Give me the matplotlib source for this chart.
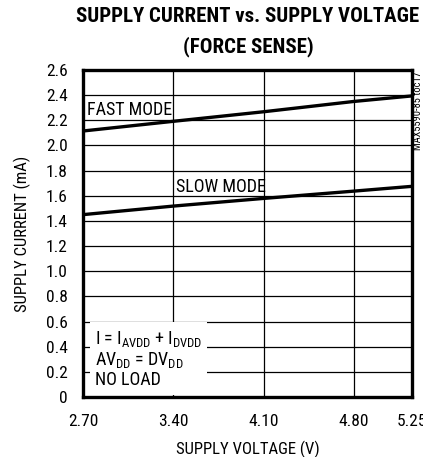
import matplotlib
matplotlib.use('Agg')
import matplotlib.pyplot as plt

# Data
VOLTAGE = [2.70, 3.40, 4.10, 4.80, 5.25]
FAST_MODE = [2.115, 2.192, 2.268, 2.350, 2.394]
SLOW_MODE = [1.450, 1.518, 1.579, 1.637, 1.675]

X_TICKS = [2.70, 3.40, 4.10, 4.80, 5.25]
Y_TICKS = [0, 0.2, 0.4, 0.6, 0.8, 1.0, 1.2, 1.4, 1.6, 1.8, 2.0, 2.2, 2.4, 2.6]

FONTS = ['Liberation Sans Narrow', 'Roboto Condensed', 'Liberation Sans', 'DejaVu Sans']
plt.rcParams['font.family'] = FONTS
plt.rcParams['mathtext.default'] = 'regular'

fig = plt.figure(figsize=[4.23, 4.57], dpi=100)
ax = fig.add_axes([83 / 423, 60 / 457, 329 / 423, 327 / 457])

ax.plot(VOLTAGE, FAST_MODE, color='black', lw=2.4, zorder=4)
ax.plot(VOLTAGE, SLOW_MODE, color='black', lw=2.4, zorder=4)

ax.set_xlim(X_TICKS[0], X_TICKS[-1])
ax.set_ylim(Y_TICKS[0], Y_TICKS[-1])
ax.set_xticks(X_TICKS, ['%.2f' % v for v in X_TICKS])
ax.set_yticks(Y_TICKS, ['0'] + ['%.1f' % v for v in Y_TICKS[1:]])
ax.tick_params(length=0, labelsize=12.5)
ax.tick_params(axis='x', pad=12)
ax.tick_params(axis='y', pad=11)
ax.grid(True, color='black', lw=0.9)
ax.set_axisbelow(True)
for s in ax.spines.values():
    s.set_linewidth(2.4)
    s.set_zorder(6)

ax.set_xlabel('SUPPLY VOLTAGE (V)', fontsize=12, labelpad=9)
ax.set_ylabel('SUPPLY CURRENT (mA)', fontsize=12, labelpad=11)

ax.text(2.73, 2.242, 'FAST MODE', fontsize=13, va='baseline', ha='left', zorder=5)
ax.text(3.42, 1.63, 'SLOW MODE', fontsize=13, va='baseline', ha='left', zorder=5)

note = ('I = I$_{AVDD}$ + I$_{DVDD}$\n'
        'AV$_{DD}$ = DV$_{DD}$\n'
        'NO LOAD')
ax.text(2.793, 0.06, note, fontsize=13, va='bottom', ha='left', linespacing=1.1,
        zorder=5, bbox=dict(boxstyle='square,pad=0.3', fc='white', ec='none'))

fig.text(0.586, 0.963, 'SUPPLY CURRENT vs. SUPPLY VOLTAGE', fontsize=15,
         fontweight='bold', ha='center', va='center')
fig.text(0.586, 0.898, '(FORCE SENSE)', fontsize=15,
         fontweight='bold', ha='center', va='center')
fig.text(0.988, 0.759, 'MAX5590-85 toc17', fontsize=7.5, rotation=90,
         ha='center', va='center')

fig.savefig('out.png', dpi=100)
